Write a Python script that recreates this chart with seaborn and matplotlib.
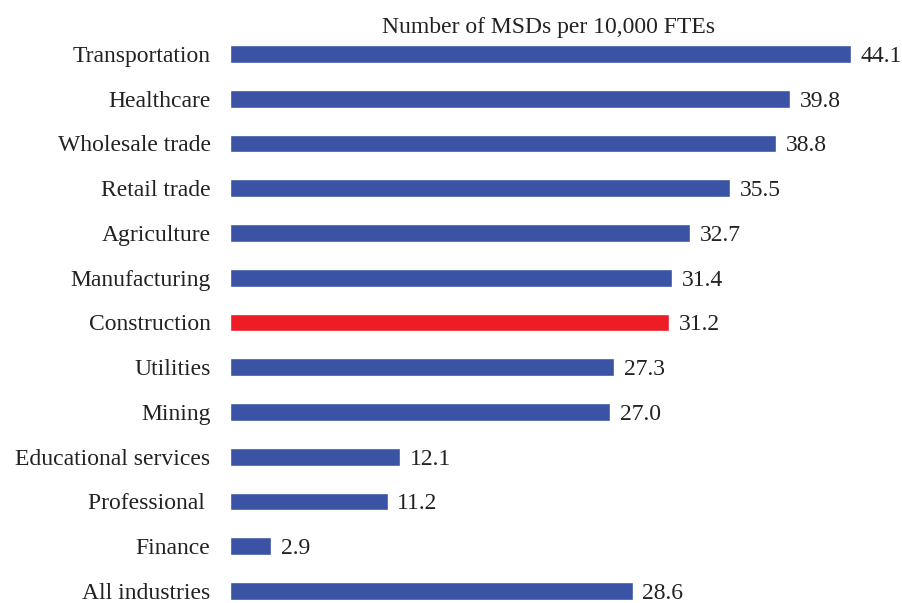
import matplotlib
matplotlib.use('Agg')
import pandas as pd
import seaborn as sns
import matplotlib.pyplot as plt

#Data
industries=['Transportation','Healthcare','Wholesale trade','Retail trade','Agriculture',
            'Manufacturing','Construction','Utilities','Mining','Educational services',
            'Professional ','Finance','All industries']
msd_rates=[44.1,39.8,38.8,35.5,32.7,31.4,31.2,27.3,27.0,12.1,11.2,2.9,28.6]
highlight='Construction'

blue='#3A53A4'
red='#EE1C24'

df=pd.DataFrame({'industry':industries,'rate':msd_rates})
palette={k:(red if k==highlight else blue) for k in industries}

sns.set_style('white')
plt.rcParams['font.family']=['Liberation Serif','DejaVu Serif']

fig=plt.figure(figsize=(9.02,6.03),dpi=100)
ax=fig.add_axes([230/902,0,(900-230)/902,1-30/603])
sns.barplot(data=df,y='industry',x='rate',hue='industry',palette=palette,
            order=industries,width=0.4,legend=False,ax=ax,saturation=1)

for c in ax.containers:
    labels=ax.bar_label(c,fmt='%.1f',padding=7,fontsize=17,color='#222222')
    for t in labels:
        t.set_va('center_baseline')

ax.set_xlim(0,47.6)
ax.set_ylim(12+12/44.75,-0.536)
ax.set_xlabel('')
ax.set_ylabel('')
ax.set_xticks([])
ax.tick_params(axis='y',length=0,pad=14,labelsize=17,labelcolor='#222222')
for t in ax.get_yticklabels():
    t.set_va('center_baseline')
sns.despine(ax=ax,left=True,bottom=True)

fig.text(549/902,1-27/603,'Number of MSDs per 10,000 FTEs',ha='center',va='center',
         fontsize=17,color='#222222')

fig.savefig('out.png',dpi=100)
